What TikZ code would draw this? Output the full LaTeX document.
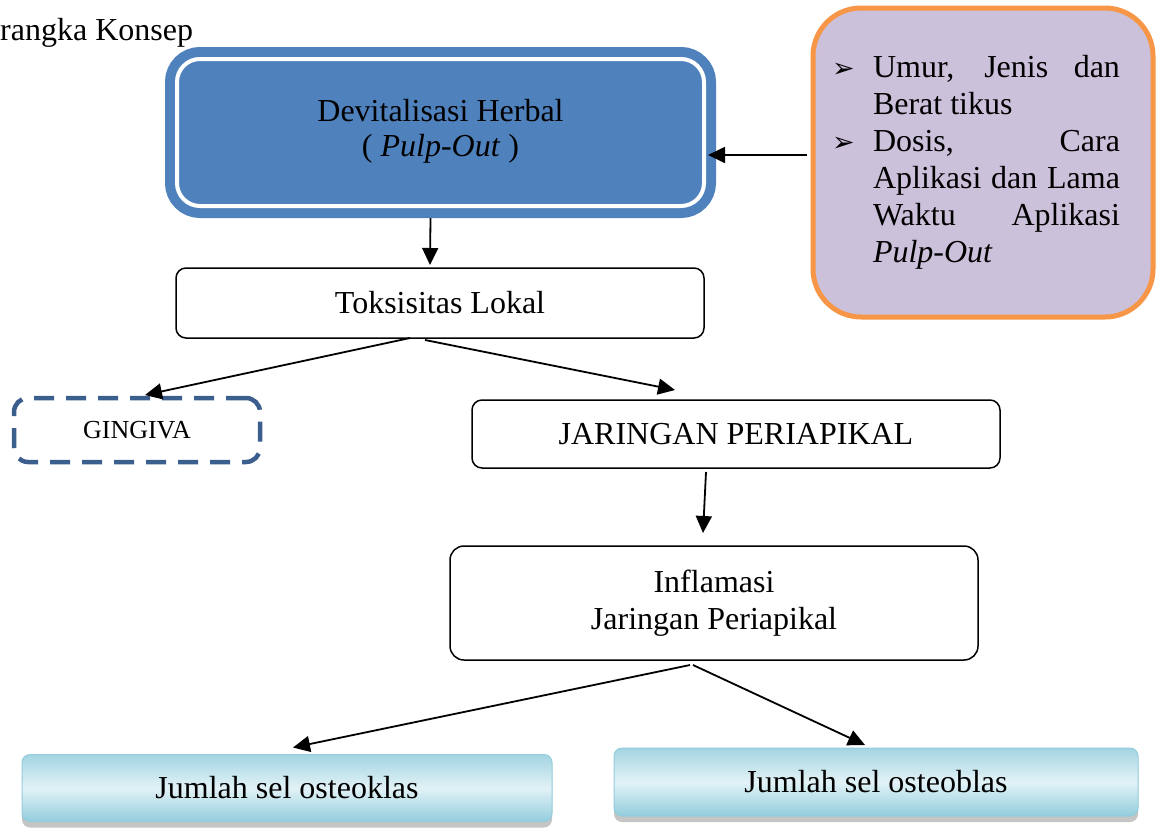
\documentclass[tikz,border=0pt]{standalone}
\usepackage{fontspec}
\setmainfont{Liberation Serif}
\newfontfamily\dingfont{DejaVu Sans}
\usetikzlibrary{calc,shadows,arrows.meta}
\definecolor{herbalblue}{HTML}{4F81BD}
\definecolor{faktorfill}{HTML}{CCC1DA}
\definecolor{faktorline}{HTML}{F79646}
\definecolor{gingline}{HTML}{3B5E8C}
\definecolor{sellight}{HTML}{E2F2F6}
\definecolor{seldark}{HTML}{93CDDD}
\newcommand{\butir}{\makebox[41pt][l]{\dingfont\fontsize{27}{37}\selectfont ➢}}
\tikzset{
  kotak/.style={draw, line width=1.5pt, rounded corners=10pt, fill=white, align=center, inner sep=0pt, outer sep=0pt},
  herbalbox/.style={draw=herbalblue, line width=10pt, double=white, double distance=4pt, fill=herbalblue, rounded corners=23pt, align=center, inner sep=0pt, outer sep=0pt},
  faktorbox/.style={draw=faktorline, line width=5pt, fill=faktorfill, rounded corners=48pt, inner sep=0pt, outer sep=0pt},
  gingbox/.style={draw=gingline, line width=4.5pt, dash pattern=on 20pt off 12pt, rounded corners=14pt, inner sep=0pt, outer sep=0pt},
  selbox/.style={draw=seldark, line width=1pt, rounded corners=8pt, inner sep=0pt, outer sep=0pt, top color=seldark!85, bottom color=seldark, middle color=sellight, drop shadow={shadow xshift=0pt, shadow yshift=-6pt, fill=black!45}},
  panah/.style={-{Triangle[length=17pt,width=16pt]}, line width=1.8pt}
}
\begin{document}
\begin{tikzpicture}[x=1pt,y=-1pt,font=\fontsize{32}{37}\selectfont]
\useasboundingbox (0,0) rectangle (1156,828);
\node[anchor=base west, inner sep=0pt] (judul) at (0,40) {rangka Konsep};
\node[herbalbox, minimum width=527pt, minimum height=147pt, font=\fontsize{32}{35}\selectfont] (herbal) at (440.5,132.5) {Devitalisasi Herbal\\( \textit{Pulp-Out} )\\[-25pt]};
\node[faktorbox, minimum width=340pt, minimum height=309pt, text width=302pt, align=justify] (faktor) at (983,162.5)
  {\rightskip=14pt\relax
   \hangindent=41pt\hangafter=1\noindent\butir Umur, Jenis dan\linebreak Berat tikus\par
   \hangindent=41pt\hangafter=1\noindent\butir Dosis, Cara\linebreak Aplikasi dan Lama\linebreak Waktu Aplikasi\linebreak \textit{Pulp-Out}\par};
\node[kotak, minimum width=528pt, minimum height=70pt] (toks) at (440,303) {Toksisitas Lokal};
\node[gingbox, minimum width=246pt, minimum height=64pt, font=\fontsize{26}{30}\selectfont] (ging) at (137,430) {GINGIVA};
\node[kotak, minimum width=528pt, minimum height=68pt] (jar) at (736,434) {JARINGAN PERIAPIKAL};
\node[kotak, minimum width=528pt, minimum height=114pt, rounded corners=14pt] (infl) at (714,603) {Inflamasi\\Jaringan Periapikal};
\node[selbox, minimum width=530pt, minimum height=67pt] (klas) at (287,788) {Jumlah sel osteoklas};
\node[selbox, minimum width=524pt, minimum height=68pt] (blas) at (876,782) {Jumlah sel osteoblas};
% panah
\draw[panah] ($(faktor.west)+(-6,-7.5)$) -- ($(herbal.east |- faktor.west)+(4,-7.5)$);
\draw[panah] ($(herbal.south)+(-10,12)$) -- ($(toks.north)+(-10,-3)$);
\draw[panah] ($(toks.south)+(-30,0)$) -- ($(ging.north)+(8,-3)$);
\draw[panah] ($(toks.south)+(-15,2)$) -- ($(jar.north)+(-61,-10)$);
\draw[panah] ($(jar.south)+(-30,4)$) -- ($(infl.north)+(-11,-13)$);
\draw[panah] ($(infl.south)+(-24,5)$) -- ($(klas.north)+(6,-7)$);
\draw[panah] ($(infl.south)+(-21,5)$) -- ($(blas.north)+(-11,-3)$);
\end{tikzpicture}
\end{document}
